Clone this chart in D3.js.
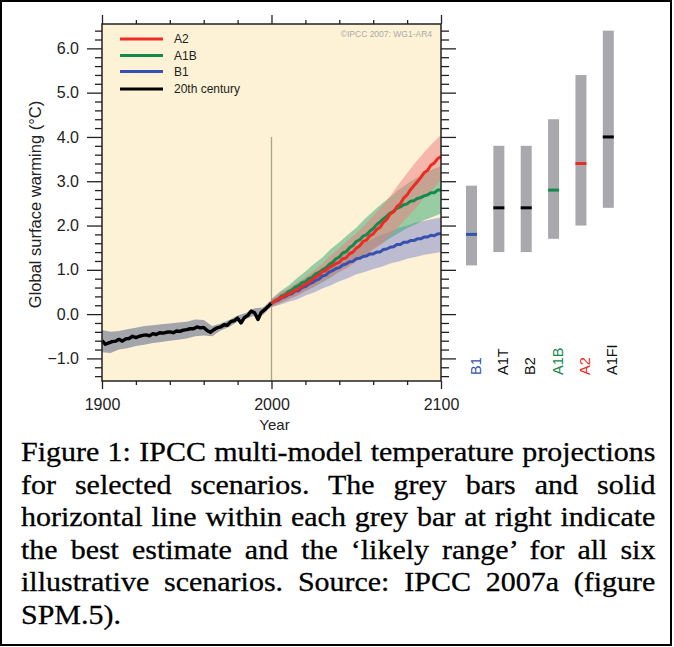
<!DOCTYPE html>
<html>
<head>
<meta charset="utf-8">
<script src="https://cdn.jsdelivr.net/npm/d3@7"></script>
<style>
body { margin: 0; background: #fff; }
#wrap { position: relative; width: 674px; height: 647px; overflow: hidden; }
#wrap svg { position: absolute; left: 0; top: 0; }
#caption { position: absolute; left: 21px; top: 436px; width: 582px;
  font-family: "Liberation Serif", "Times New Roman", serif; font-size: 27.5px;
  line-height: 32.6px; color: #000; transform: scaleX(1.09); transform-origin: 0 0;
  -webkit-text-stroke: 0.3px #000; }
#caption div { text-align: justify; text-align-last: justify; }
#caption div.last { text-align-last: left; }
</style>
</head>
<body>
<div id="wrap"></div>
<script>
// 20th century simulated mean + range
var years20 = [1900,1902,1904,1906,1908,1910,1912,1914,1916,1918,1920,1922,1924,1926,1928,1930,1932,1934,1936,1938,
  1940,1942,1944,1946,1948,1950,1952,1954,1956,1958,1960,1962,1964,1966,1968,1970,1972,1974,1976,1978,
  1980,1982,1984,1986,1988,1990,1992,1994,1996,1998,2000];
var temp20 = [-0.60,-0.68,-0.65,-0.62,-0.61,-0.57,-0.61,-0.56,-0.55,-0.50,-0.53,-0.50,-0.48,-0.47,-0.49,-0.44,-0.46,-0.42,-0.43,-0.41,
  -0.40,-0.42,-0.38,-0.39,-0.36,-0.35,-0.33,-0.33,-0.29,-0.31,-0.30,-0.37,-0.41,-0.35,-0.31,-0.29,-0.24,-0.25,-0.17,-0.15,
  -0.09,-0.20,-0.08,-0.03,0.07,0.03,-0.12,0.04,0.10,0.17,0.25];
var bandYears20 = [1900,1905,1910,1915,1920,1925,1930,1935,1940,1945,1950,1955,1960,1965,1970,1975,1980,1985,1990,1995,2000];
var low20  = [-0.86,-0.88,-0.80,-0.77,-0.72,-0.69,-0.65,-0.63,-0.60,-0.58,-0.55,-0.50,-0.48,-0.50,-0.37,-0.29,-0.17,-0.11,-0.03,-0.02,0.18];
var high20 = [-0.36,-0.40,-0.38,-0.34,-0.31,-0.27,-0.25,-0.23,-0.21,-0.19,-0.17,-0.12,-0.13,-0.27,-0.21,-0.13,-0.03,0.03,0.13,0.15,0.32];

// 21st century projections
var years21 = [2000,2002,2004,2006,2008,2010,2012,2014,2016,2018,2020,2022,2024,2026,2028,2030,2032,2034,2036,2038,
  2040,2042,2044,2046,2048,2050,2052,2054,2056,2058,2060,2062,2064,2066,2068,2070,2072,2074,2076,2078,
  2080,2082,2084,2086,2088,2090,2092,2094,2096,2098,2100];
var tempA2 = [0.24,0.29,0.34,0.37,0.42,0.45,0.49,0.53,0.57,0.63,0.67,0.72,0.77,0.84,0.88,0.96,0.98,1.05,1.09,1.14,
  1.17,1.25,1.27,1.36,1.40,1.49,1.54,1.64,1.67,1.77,1.81,1.91,1.96,2.07,2.14,2.26,2.31,2.43,2.49,2.62,
  2.69,2.81,2.90,2.99,3.08,3.19,3.24,3.36,3.41,3.51,3.56];
var tempA1B = [0.24,0.30,0.34,0.41,0.44,0.51,0.54,0.61,0.64,0.71,0.73,0.80,0.83,0.91,0.94,1.00,1.04,1.12,1.17,1.25,
  1.29,1.38,1.41,1.50,1.55,1.64,1.68,1.76,1.79,1.87,1.93,2.02,2.08,2.15,2.21,2.28,2.32,2.39,2.42,2.47,
  2.49,2.55,2.56,2.61,2.63,2.67,2.69,2.74,2.74,2.80,2.80];
var tempB1 = [0.24,0.29,0.31,0.37,0.39,0.44,0.46,0.52,0.53,0.60,0.62,0.68,0.71,0.76,0.79,0.86,0.88,0.95,0.98,1.03,
  1.05,1.11,1.13,1.18,1.19,1.25,1.26,1.30,1.31,1.36,1.36,1.40,1.40,1.46,1.47,1.51,1.52,1.57,1.57,1.62,
  1.62,1.66,1.66,1.70,1.70,1.74,1.74,1.78,1.77,1.81,1.82];
var bandYears21 = [2000,2005,2010,2015,2020,2025,2030,2035,2040,2045,2050,2055,2060,2065,2070,2075,2080,2085,2090,2095,2100];
var lowA2   = [0.16,0.24,0.33,0.41,0.52,0.61,0.74,0.84,0.95,1.04,1.18,1.29,1.45,1.59,1.78,1.97,2.18,2.39,2.62,2.81,3.02];
var highA2  = [0.34,0.49,0.58,0.71,0.84,0.99,1.14,1.33,1.48,1.66,1.82,2.01,2.22,2.43,2.66,2.93,3.18,3.43,3.65,3.86,4.05];
var lowA1B  = [0.16,0.25,0.34,0.42,0.52,0.61,0.72,0.83,0.96,1.07,1.22,1.33,1.48,1.59,1.72,1.83,1.94,2.03,2.12,2.19,2.27];
var highA1B = [0.34,0.51,0.64,0.81,0.96,1.13,1.28,1.47,1.62,1.79,1.95,2.15,2.32,2.49,2.64,2.81,2.94,3.07,3.16,3.27,3.34];
var lowB1   = [0.16,0.21,0.28,0.33,0.42,0.49,0.58,0.65,0.74,0.81,0.90,0.95,1.02,1.07,1.14,1.19,1.25,1.29,1.34,1.37,1.40];
var highB1  = [0.32,0.45,0.56,0.69,0.80,0.93,1.04,1.17,1.28,1.41,1.50,1.61,1.70,1.79,1.86,1.95,2.00,2.07,2.10,2.15,2.18];

// likely ranges at right
var scenarios = ["B1", "A1T", "B2", "A1B", "A2", "A1FI"];
var bestEst   = [1.8, 2.4, 2.4, 2.8, 3.4, 4.0];
var likelyLow = [1.1, 1.4, 1.4, 1.7, 2.0, 2.4];
var likelyHigh = [2.9, 3.8, 3.8, 4.4, 5.4, 6.4];
var scenColors = ["#3552b0", "#000", "#000", "#13894b", "#ee2a24", "#000"];

var legendNames = ["A2", "A1B", "B1", "20th century"];
var legendColors = ["#ee2a24", "#13894b", "#3552b0", "#000"];

var yMajor = [-1, 0, 1, 2, 3, 4, 5, 6];
var xMajor = [1900, 2000, 2100];

var plotLeft = 102, plotRight = 441, plotTop = 24, plotBottom = 381;
var sansFont = "'Liberation Sans', Arial, Helvetica, sans-serif";
var axisColor = "#222";

var svg = d3.select("#wrap").append("svg")
    .attr("width", 674)
    .attr("height", 647);

svg.append("rect")
    .attr("x", 1).attr("y", 1)
    .attr("width", 670).attr("height", 644)
    .attr("fill", "#fff")
    .attr("stroke", "#000")
    .attr("stroke-width", 2);

var xScale = d3.scaleLinear().domain([1900, 2100]).range([plotLeft, plotRight]);
var yScale = d3.scaleLinear().domain([-1.51, 6.55]).range([plotBottom, plotTop]);

svg.append("rect")
    .attr("x", plotLeft).attr("y", plotTop)
    .attr("width", plotRight - plotLeft)
    .attr("height", plotBottom - plotTop)
    .attr("fill", "#fdf2d5");

// minor tick positions
var yMinor = d3.range(-14, 65, 2).map(v => v / 10).filter(v => Math.abs(v % 1) > 0.01);
var xMinor = [1920, 1940, 1960, 1980, 2020, 2040, 2060, 2080];

function styleAxis(g) {
    g.select(".domain").remove();
    g.selectAll("line").attr("stroke", axisColor).attr("stroke-width", 1.3);
    g.selectAll("text").attr("font-family", sansFont).attr("fill", axisColor);
}

svg.append("g").attr("transform", `translate(${plotLeft},0)`)
    .call(d3.axisLeft(yScale).tickValues(yMajor).tickFormat(d3.format(".1f"))
        .tickSize(15).tickPadding(8))
    .call(styleAxis)
    .selectAll("text").attr("font-size", "16px");
svg.append("g").attr("transform", `translate(${plotLeft},0)`)
    .call(d3.axisLeft(yScale).tickValues(yMinor).tickFormat("").tickSize(7))
    .call(styleAxis);
svg.append("g").attr("transform", `translate(${plotRight},0)`)
    .call(d3.axisRight(yScale).tickValues(yMajor).tickFormat("").tickSize(15))
    .call(styleAxis);
svg.append("g").attr("transform", `translate(${plotRight},0)`)
    .call(d3.axisRight(yScale).tickValues(yMinor).tickFormat("").tickSize(8))
    .call(styleAxis);
svg.append("g").attr("transform", `translate(0,${plotTop})`)
    .call(d3.axisTop(xScale).tickValues(xMajor).tickFormat("").tickSize(9))
    .call(styleAxis);
svg.append("g").attr("transform", `translate(0,${plotTop})`)
    .call(d3.axisTop(xScale).tickValues(xMinor).tickFormat("").tickSize(4))
    .call(styleAxis);
svg.append("g").attr("transform", `translate(0,${plotBottom})`)
    .call(d3.axisBottom(xScale).tickValues(xMajor).tickFormat(d3.format("d"))
        .tickSize(8).tickPadding(10))
    .call(styleAxis)
    .selectAll("text").attr("font-size", "16px");
svg.append("g").attr("transform", `translate(0,${plotBottom})`)
    .call(d3.axisBottom(xScale).tickValues(xMinor).tickFormat("").tickSize(4))
    .call(styleAxis);

// vertical marker at 2000
svg.append("line")
    .attr("x1", xScale(2000)).attr("x2", xScale(2000))
    .attr("y1", yScale(4.0)).attr("y2", plotBottom)
    .attr("stroke", "#a7a58c")
    .attr("stroke-width", 1.3);

// bands
var area = d3.area()
    .x(d => xScale(d[0]))
    .y0(d => yScale(d[1]))
    .y1(d => yScale(d[2]));
var line = d3.line()
    .x(d => xScale(d[0]))
    .y(d => yScale(d[1]));

svg.append("path")
    .datum(d3.zip(bandYears20, low20, high20))
    .attr("d", area)
    .attr("fill", "#a4a4ab");

var bands = [
    {lo: lowB1, hi: highB1, fill: "#7d84cc", op: 0.5},
    {lo: lowA1B, hi: highA1B, fill: "#33a874", op: 0.5},
    {lo: lowA2, hi: highA2, fill: "#f07a7e", op: 0.5}
];
bands.forEach(b => {
    svg.append("path")
        .datum(d3.zip(bandYears21, b.lo, b.hi))
        .attr("d", area)
        .attr("fill", b.fill)
        .attr("fill-opacity", b.op);
});

svg.append("path")
    .datum(d3.zip(years20, temp20))
    .attr("d", line)
    .attr("fill", "none")
    .attr("stroke", "#000")
    .attr("stroke-width", 3.4)
    .attr("stroke-linejoin", "round");

[[tempB1, "#3552b0"], [tempA1B, "#13894b"], [tempA2, "#ee2a24"]].forEach(s => {
    svg.append("path")
        .datum(d3.zip(years21, s[0]))
        .attr("d", line)
        .attr("fill", "none")
        .attr("stroke", s[1])
        .attr("stroke-width", 3)
        .attr("stroke-linejoin", "round");
});

// plot frame
svg.append("rect")
    .attr("x", plotLeft).attr("y", plotTop)
    .attr("width", plotRight - plotLeft)
    .attr("height", plotBottom - plotTop)
    .attr("fill", "none")
    .attr("stroke", axisColor)
    .attr("stroke-width", 1.5);

// legend
var legendY = [39, 55.5, 71.5, 89];
var legend = svg.append("g").selectAll("g")
    .data(legendNames)
    .enter()
    .append("g")
    .attr("transform", (d, i) => `translate(120,${legendY[i]})`);
legend.append("line")
    .attr("x1", 0).attr("x2", 43)
    .attr("stroke", (d, i) => legendColors[i])
    .attr("stroke-width", 3);
legend.append("text")
    .attr("x", 54)
    .attr("dy", "0.35em")
    .attr("font-family", sansFont)
    .attr("font-size", "12px")
    .attr("fill", "#222")
    .text(d => d);

svg.append("text")
    .attr("x", 432).attr("y", 37)
    .attr("text-anchor", "end")
    .attr("font-family", sansFont)
    .attr("font-size", "8.5px")
    .attr("fill", "#aaa")
    .text("\u00A9IPCC  2007: WG1-AR4");

// axis titles
svg.append("text")
    .attr("transform", `translate(41,${(plotTop + plotBottom) / 2 + 2}) rotate(-90)`)
    .attr("text-anchor", "middle")
    .attr("font-family", sansFont)
    .attr("font-size", "16.5px")
    .attr("fill", axisColor)
    .text("Global surface warming (\u00B0C)");
svg.append("text")
    .attr("x", (plotLeft + plotRight) / 2 + 3)
    .attr("y", 430)
    .attr("text-anchor", "middle")
    .attr("font-family", sansFont)
    .attr("font-size", "15px")
    .attr("fill", axisColor)
    .text("Year");

// likely-range bars
var xScen = d3.scalePoint().domain(scenarios).range([471.5, 608.3]);
var barW = 11;
var bars = svg.append("g").selectAll("g")
    .data(scenarios)
    .enter()
    .append("g");
bars.append("rect")
    .attr("x", d => xScen(d) - barW / 2)
    .attr("width", barW)
    .attr("y", (d, i) => yScale(likelyHigh[i]))
    .attr("height", (d, i) => yScale(likelyLow[i]) - yScale(likelyHigh[i]))
    .attr("fill", "#a9a9ad");
bars.append("line")
    .attr("x1", d => xScen(d) - barW / 2)
    .attr("x2", d => xScen(d) + barW / 2)
    .attr("y1", (d, i) => yScale(bestEst[i]))
    .attr("y2", (d, i) => yScale(bestEst[i]))
    .attr("stroke", (d, i) => scenColors[i])
    .attr("stroke-width", 3);
bars.append("text")
    .attr("transform", d => `translate(${xScen(d) + 9},375) rotate(-90)`)
    .attr("font-family", sansFont)
    .attr("font-size", "14.5px")
    .attr("fill", (d, i) => scenColors[i] === "#000" ? "#111" : scenColors[i])
    .text(d => d);

// caption
var captionLines = [
    "Figure 1: IPCC multi-model temperature projections",
    "for selected scenarios. The grey bars and solid",
    "horizontal line within each grey bar at right indicate",
    "the best estimate and the \u2018likely range\u2019 for all six",
    "illustrative scenarios. Source: IPCC 2007a (figure",
    "SPM.5)."
];
d3.select("#wrap").append("div")
    .attr("id", "caption")
    .selectAll("div")
    .data(captionLines)
    .enter()
    .append("div")
    .attr("class", (d, i) => i === captionLines.length - 1 ? "last" : null)
    .text(d => d);
</script>
</body>
</html>
